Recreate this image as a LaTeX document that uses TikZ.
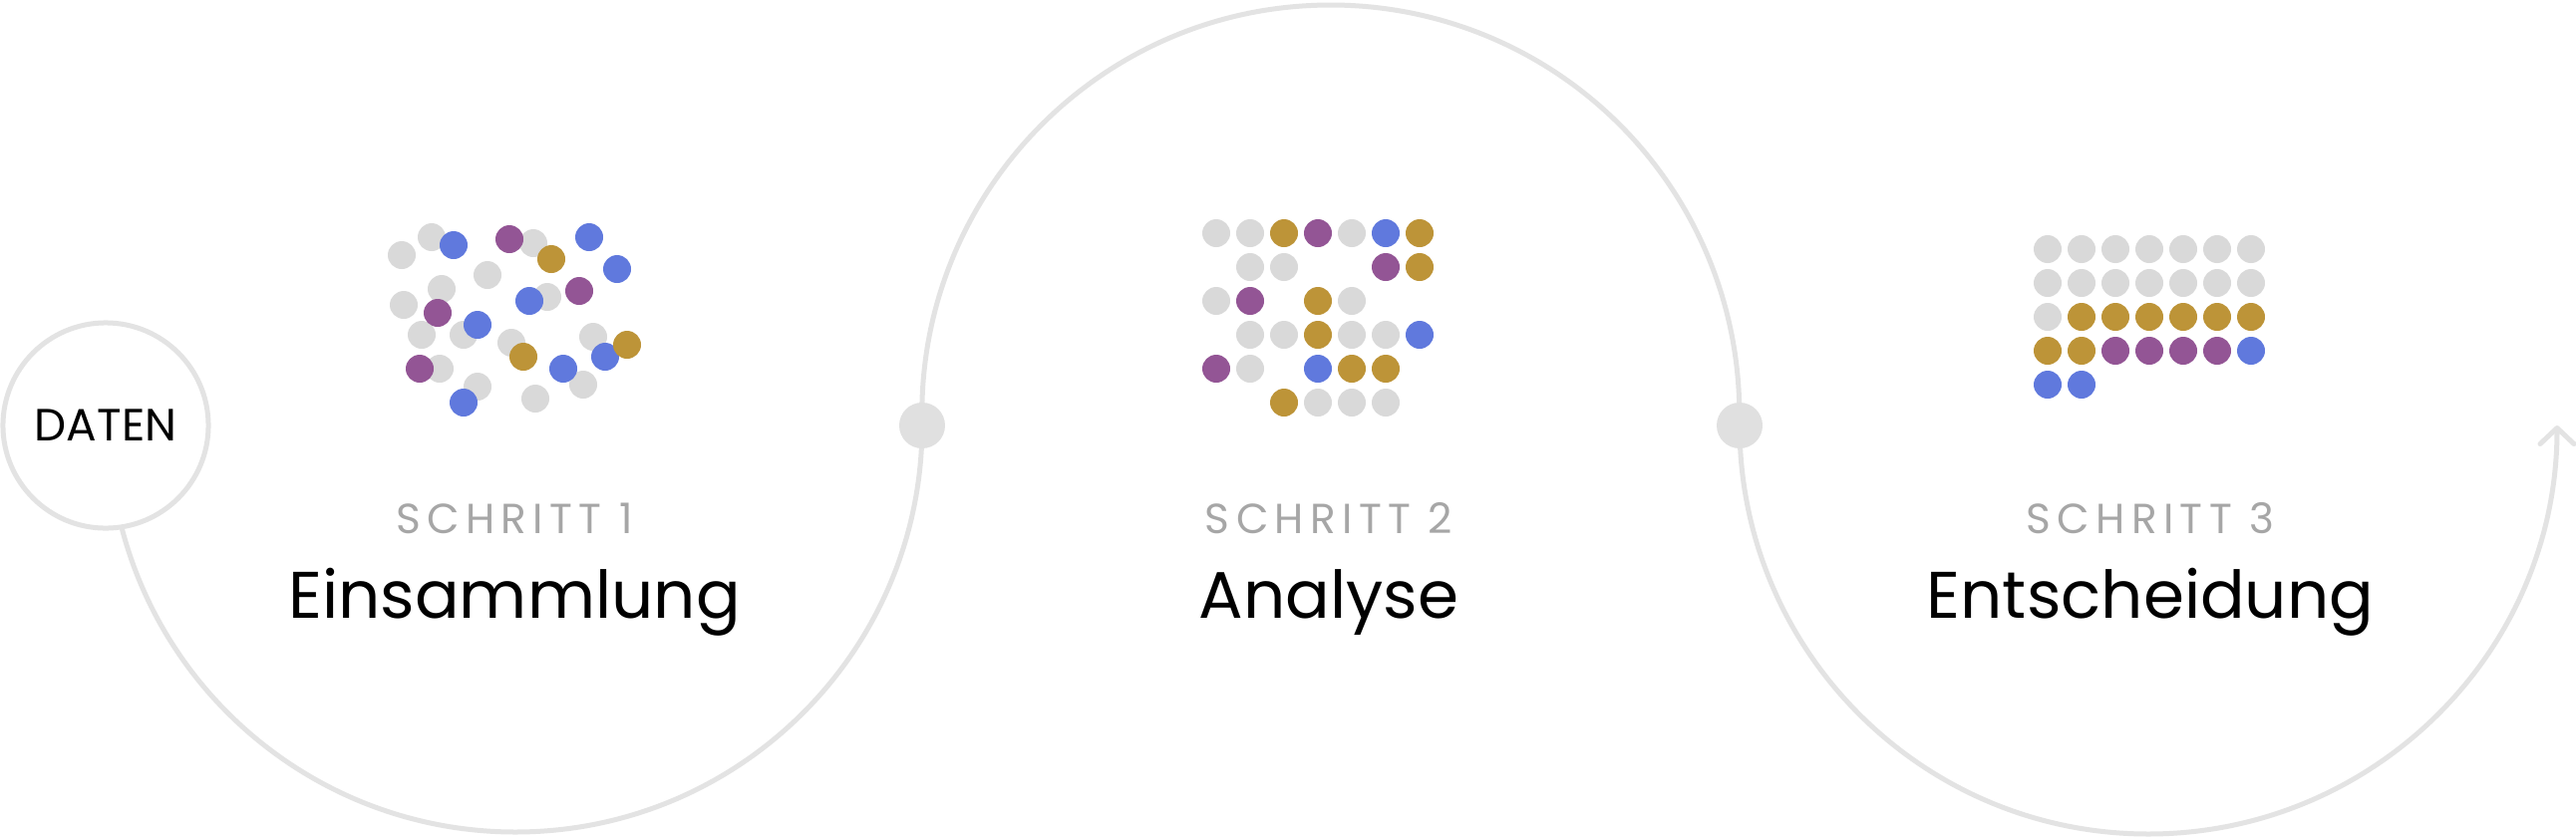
\documentclass[tikz,border=0pt]{standalone}
\usepackage{fontspec}
\setmainfont{Poppins}
\newfontfamily\stepfont[LetterSpace=15]{Poppins}
\usetikzlibrary{arrows.meta,backgrounds}
\definecolor{trackgray}{HTML}{E3E3E3}
\definecolor{hubgray}{HTML}{E0E0E0}
\definecolor{labelgray}{HTML}{A6A6A6}
\definecolor{dotgray}{HTML}{D9D9D9}
\definecolor{dotblue}{HTML}{6079DD}
\definecolor{dotpurple}{HTML}{935595}
\definecolor{dotgold}{HTML}{BD9438}
\begin{document}
\begin{tikzpicture}[x=0.01cm,y=0.01cm,
    track/.style={draw=trackgray,line width=0.05cm},
    hub/.style={circle,fill=hubgray,minimum size=0.46cm,inner sep=0pt},
    steplabel/.style={anchor=base,text=labelgray,font=\stepfont\fontsize{12}{14}\selectfont},
    title/.style={anchor=base,font=\fontsize{18.8}{22}\selectfont}]
	\useasboundingbox (0,0) rectangle (2584,841);
	\node[circle,draw=trackgray,line width=0.05cm,fill=white,minimum size=2.06cm,inner sep=0pt,font=\fontsize{12.9}{15}\selectfont] (daten) at (106,414) {DATEN};
	\node[hub] (hub1) at (925,414) {};
	\node[hub] (hub2) at (1745,414) {};
	\begin{scope}[on background layer]
	    \draw[track] (hub1.center) arc[start angle=0,end angle=-168,radius=408];
	    \draw[track] (hub1.center) arc[start angle=181.68,end angle=-1.68,radius=410];
	    \draw[track,-{Straight Barb[length=0.16cm,width=0.34cm,round]}] (hub2.center) arc[start angle=180,end angle=360,radius=410];
	\end{scope}
	\node[steplabel] (step1) at (516,306) {SCHRITT 1};
	\node[title] (title1) at (516,221) {Einsammlung};
	\node[steplabel] (step2) at (1333,306) {SCHRITT 2};
	\node[title] (title2) at (1333,221) {Analyse};
	\node[steplabel] (step3) at (2157,306) {SCHRITT 3};
	\node[title] (title3) at (2157,221) {Entscheidung};
	\foreach \x/\y in {403/585,433/603,535/597,489/565,443/551,405/535,549/543,423/505,465/505,513/497,595/503,441/471,479/453,585/455,537/441,
	    1220/607,1254/607,1356/607,1254/573,1288/573,1220/539,1356/539,1254/505,1288/505,1356/505,1390/505,1254/471,1322/437,1356/437,1390/437}
	    \fill[dotgray] (\x,\y) circle[radius=14];
	\foreach \x/\y in {455/595,591/603,619/571,531/539,479/515,607/483,465/437,565/471,
	    1390/607,1424/505,1322/471}
	    \fill[dotblue] (\x,\y) circle[radius=14];
	\foreach \x/\y in {511/601,439/527,581/549,421/471,
	    1322/607,1390/573,1254/539,1220/471}
	    \fill[dotpurple] (\x,\y) circle[radius=14];
	\foreach \x/\y in {553/581,525/483,629/495,
	    1288/607,1424/607,1424/573,1322/539,1322/505,1356/471,1390/471,1288/437}
	    \fill[dotgold] (\x,\y) circle[radius=14];
	\foreach \c in {0,...,6}{
	    \fill[dotgray] (2054+34*\c,591) circle[radius=14];
	    \fill[dotgray] (2054+34*\c,557) circle[radius=14];}
	\fill[dotgray] (2054,523) circle[radius=14];
	\foreach \c in {1,...,6}
	    \fill[dotgold] (2054+34*\c,523) circle[radius=14];
	\foreach \c in {0,1}{
	    \fill[dotgold] (2054+34*\c,489) circle[radius=14];
	    \fill[dotblue] (2054+34*\c,455) circle[radius=14];}
	\foreach \c in {2,...,5}
	    \fill[dotpurple] (2054+34*\c,489) circle[radius=14];
	\fill[dotblue] (2258,489) circle[radius=14];
\end{tikzpicture}
\end{document}
